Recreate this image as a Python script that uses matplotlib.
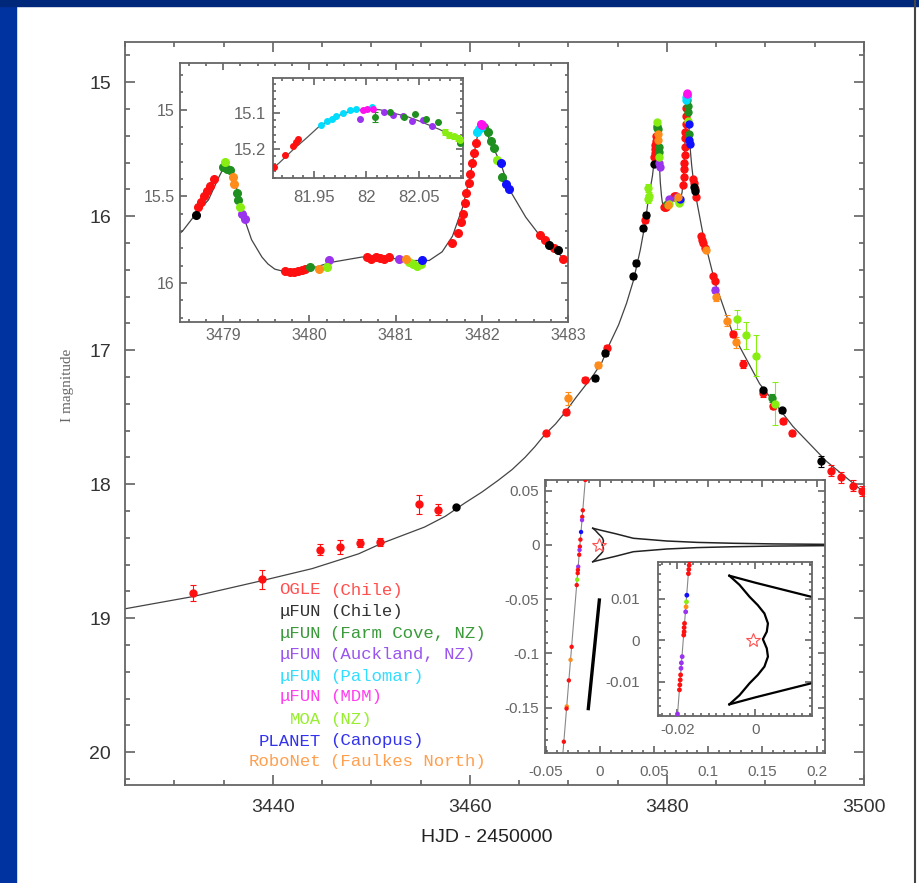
import numpy as np
import matplotlib
matplotlib.use("Agg")
import matplotlib.pyplot as plt
from matplotlib.patches import Rectangle
from matplotlib.lines import Line2D
from matplotlib.ticker import MultipleLocator, FuncFormatter

plt.rcParams['font.family'] = ['Liberation Sans', 'DejaVu Sans']

# ---- model light curve (HJD-2450000, I mag)
model_t = [3425, 3431.8, 3438.9, 3444.0, 3448.7, 3451.1, 3455.4, 3457.5, 3459.5, 3461.2,
           3462.9, 3464.3, 3465.6, 3466.6, 3467.6, 3468.7, 3469.7, 3470.8, 3472.5, 3473.4,
           3474.2, 3475.1, 3475.9, 3476.6, 3477.3, 3477.8, 3478.1, 3478.53, 3478.67, 3478.83,
           3478.95, 3479.02, 3479.07, 3479.14, 3479.24, 3479.33, 3479.45, 3479.52, 3479.60,
           3479.68, 3479.76, 3479.87, 3479.99, 3480.26, 3480.61, 3480.85, 3481.15, 3481.39,
           3481.54, 3481.66, 3481.78, 3481.87, 3481.911, 3481.930, 3481.955, 3481.981, 3482.0,
           3482.025, 3482.051, 3482.07, 3482.091, 3482.22, 3482.32, 3482.51, 3482.71, 3482.98,
           3483.7, 3484.9, 3486.7, 3489.4, 3492.8, 3496.2, 3500]
model_mag = [18.93, 18.84, 18.72, 18.63, 18.52, 18.44, 18.32, 18.24, 18.14, 18.06,
             17.97, 17.89, 17.80, 17.72, 17.63, 17.55, 17.46, 17.35, 17.19, 17.09,
             16.95, 16.81, 16.65, 16.48, 16.25, 16.05, 15.88, 15.70, 15.61, 15.52,
             15.39, 15.32, 15.33, 15.42, 15.62, 15.75, 15.85, 15.89, 15.92,
             15.93, 15.935, 15.935, 15.92, 15.88, 15.85, 15.85, 15.87, 15.87,
             15.82, 15.73, 15.56, 15.37, 15.253, 15.202, 15.137, 15.098, 15.089,
             15.10, 15.123, 15.146, 15.174, 15.31, 15.46, 15.62, 15.75, 15.87,
             16.15, 16.50, 16.88, 17.25, 17.57, 17.83, 18.06]

# ---- photometry per observatory
ogle_t = [3431.9, 3438.9, 3444.8, 3446.8, 3448.9, 3450.9, 3454.8, 3456.8, 3467.7, 3469.8,
          3471.7, 3473.9, 3477.8, 3478.71, 3478.74, 3478.78, 3478.81, 3478.85, 3478.89,
          3479.72, 3479.77, 3479.82, 3479.87, 3479.92, 3479.95, 3480.67, 3480.72, 3480.77,
          3480.82, 3480.87, 3480.92, 3481.66, 3481.72, 3481.76, 3481.78, 3481.81, 3481.82,
          3481.85, 3481.86, 3481.89, 3481.91, 3481.93, 3482.67, 3482.73, 3482.84, 3482.94,
          3483.5, 3483.6, 3483.7, 3483.9, 3484.7, 3484.9, 3486.7, 3487.7, 3489.7, 3490.8,
          3491.8, 3492.7, 3496.7, 3497.7, 3498.9, 3499.8]
ogle_mag = [18.81, 18.71, 18.49, 18.47, 18.44, 18.43, 18.15, 18.19, 17.62, 17.46,
            17.22, 16.98, 16.03, 15.56, 15.53, 15.50, 15.47, 15.44, 15.40,
            15.93, 15.935, 15.935, 15.93, 15.925, 15.92, 15.85, 15.86, 15.85,
            15.855, 15.86, 15.85, 15.77, 15.71, 15.65, 15.60, 15.54, 15.48,
            15.42, 15.37, 15.31, 15.25, 15.19, 15.72, 15.75, 15.80, 15.86,
            16.15, 16.18, 16.20, 16.24, 16.45, 16.48, 16.88, 17.10, 17.32, 17.42,
            17.53, 17.62, 17.90, 17.95, 18.01, 18.05]
ogle_err = [0.06, 0.07, 0.04, 0.05, 0.03, 0.03, 0.07, 0.04, 0.02, 0.02,
            0.02, 0.02, 0.02, 0, 0, 0, 0, 0, 0,
            0, 0, 0, 0, 0, 0, 0, 0, 0,
            0, 0, 0, 0, 0, 0, 0, 0, 0,
            0, 0, 0, 0, 0, 0, 0, 0, 0,
            0, 0, 0, 0, 0, 0, 0.02, 0.03, 0.03, 0.02,
            0.02, 0.02, 0.04, 0.04, 0.04, 0.04]

chile_t = [3458.6, 3472.7, 3473.7, 3476.6, 3476.9, 3477.6, 3477.9, 3478.68, 3482.78, 3482.88,
           3489.8, 3491.7, 3495.6]
chile_mag = [18.17, 17.21, 17.02, 16.45, 16.35, 16.09, 15.99, 15.61, 15.78, 15.81,
             17.30, 17.45, 17.83]
chile_err = [0, 0.02, 0.02, 0.02, 0.02, 0.02, 0.02, 0, 0, 0, 0.02, 0.02, 0.04]

farm_t = [3479.00, 3479.04, 3479.08, 3479.16, 3479.17, 3480.01, 3482.03, 3482.07, 3482.11,
          3482.14, 3482.24, 3490.7]
farm_mag = [15.33, 15.34, 15.35, 15.48, 15.52, 15.91, 15.10, 15.13, 15.18,
            15.22, 15.39, 17.36]
farm_err = [0, 0, 0, 0, 0, 0, 0, 0, 0, 0, 0, 0.03]

auck_t = [3479.22, 3479.25, 3480.23, 3481.04, 3484.9]
auck_mag = [15.60, 15.63, 15.87, 15.86, 16.55]
auck_err = [0, 0, 0, 0, 0.02]

palomar_t = [3481.95, 3481.97, 3481.99]
palomar_mag = [15.13, 15.11, 15.10]
palomar_err = [0, 0, 0]

mdm_t = [3481.99, 3482.0]
mdm_mag = [15.08, 15.085]
mdm_err = [0, 0]

moa_t = [3478.05, 3478.1, 3478.15, 3479.02, 3479.20, 3480.21, 3481.16, 3481.2, 3481.25,
         3481.29, 3482.18, 3487.1, 3488.0, 3489.0, 3491.0]
moa_mag = [15.87, 15.79, 15.85, 15.30, 15.56, 15.91, 15.88, 15.89, 15.90,
           15.89, 15.29, 16.77, 16.89, 17.04, 17.40]
moa_err = [0.03, 0.03, 0.03, 0, 0, 0, 0, 0, 0, 0, 0, 0.07, 0.10, 0.15, 0.16]

planet_t = [3481.31, 3482.22, 3482.28, 3482.32]
planet_mag = [15.87, 15.31, 15.43, 15.46]
planet_err = [0, 0, 0, 0]

robo_t = [3470.0, 3473.0, 3479.11, 3479.13, 3480.11, 3481.12, 3484.0, 3485.0, 3486.1, 3487.0]
robo_mag = [17.36, 17.11, 15.39, 15.43, 15.92, 15.86, 16.25, 16.60, 16.78, 16.94]
robo_err = [0.05, 0.02, 0, 0, 0, 0, 0.02, 0.03, 0.04, 0.04]

# ---- zoom on the second peak (HJD-2453400)
peak_model_t = [81.911, 81.917, 81.930, 81.943, 81.955, 81.968, 81.981, 82.0, 82.013, 82.025,
                82.038, 82.051, 82.07, 82.083, 82.092]
peak_model_mag = [15.253, 15.238, 15.202, 15.169, 15.137, 15.114, 15.098, 15.089, 15.091, 15.10,
                  15.109, 15.123, 15.146, 15.165, 15.176]
peak_ogle_t = [81.912, 81.922, 81.93, 81.933, 81.935]
peak_ogle_mag = [15.25, 15.216, 15.19, 15.18, 15.172]
peak_palomar_t = [81.957, 81.962, 81.967, 81.971, 81.978, 81.984, 81.990, 82.005]
peak_palomar_mag = [15.132, 15.123, 15.117, 15.109, 15.10, 15.091, 15.089, 15.082]
peak_mdm_t = [81.997, 82.001, 82.006]
peak_mdm_mag = [15.091, 15.089, 15.089]
peak_auck_t = [81.994, 82.017, 82.025, 82.035, 82.043, 82.054, 82.062]
peak_auck_mag = [15.117, 15.098, 15.105, 15.109, 15.123, 15.119, 15.137]
peak_farm_t = [82.008, 82.022, 82.036, 82.046, 82.057, 82.068, 82.089]
peak_farm_mag = [15.111, 15.096, 15.112, 15.102, 15.117, 15.126, 15.183]
peak_farm_err = [0.013, 0, 0, 0, 0, 0, 0]
peak_moa_t = [82.075, 82.079, 82.083, 82.087, 82.089]
peak_moa_mag = [15.152, 15.16, 15.165, 15.17, 15.174]
peak_moa_err = [0.008, 0.008, 0.008, 0.008, 0.008]

# ---- source plane: trajectory, caustics, data positions
traj_x = [-0.0345, -0.0132]
traj_y = [-0.195, 0.065]
fold_up_x = [-0.0067, 0.0, 0.0144, 0.0308, 0.0616, 0.09, 0.123, 0.16, 0.21]
fold_up_y = [0.0155, 0.0138, 0.0104, 0.0062, 0.0037, 0.0024, 0.0016, 0.0010, 0.0006]
fold_lo_x = [-0.0067, 0.0, 0.0144, 0.0308, 0.0616, 0.09, 0.123, 0.16, 0.21]
fold_lo_y = [-0.0155, -0.0138, -0.0104, -0.0062, -0.0037, -0.0024, -0.0016, -0.0010, -0.0006]
inner_x = [-0.0067, -0.0041, -0.0015, 0.0006, 0.0023, 0.0032, 0.0029, 0.0019,
           0.0029, 0.0032, 0.0023, 0.0006, -0.0015, -0.0041, -0.0067]
inner_y = [0.0155, 0.0133, 0.0104, 0.0084, 0.0064, 0.0040, 0.0020, 0.0002,
           -0.0020, -0.0040, -0.0064, -0.0084, -0.0104, -0.0133, -0.0155]
planet_caustic_x = [-0.0108, -0.0006]
planet_caustic_y = [-0.151, -0.0508]
source_xy = (-0.0007, 0.0)

src_x = [-0.0136, -0.0159, -0.0164, -0.0166, -0.0175, -0.0181, -0.0186, -0.0189, -0.0192,
         -0.0201, -0.0204, -0.0206, -0.0211, -0.0215, -0.0262, -0.0272, -0.0288, -0.0307,
         -0.0309, -0.0334]
src_y = [0.06, 0.032, 0.026, 0.023, 0.012, 0.005, -0.0015, -0.0046, -0.009,
         -0.020, -0.023, -0.026, -0.032, -0.037, -0.094, -0.106, -0.125, -0.149,
         -0.151, -0.1816]
src_c = ['r', 'r', 'r', 'p', 'b', 'r', 'r', 'p', 'r', 'p', 'r', 'r', 'm', 'r', 'r', 'o', 'r', 'o', 'r', 'r']

zsrc_x = [-0.0169, -0.0170, -0.0171, -0.0172, -0.0176, -0.0177, -0.0178, -0.0179, -0.0182,
          -0.0183, -0.0183, -0.0184, -0.0188, -0.0190, -0.0191, -0.0192, -0.0193, -0.0194,
          -0.0195, -0.0200]
zsrc_y = [0.019, 0.018, 0.017, 0.016, 0.0108, 0.0092, 0.008, 0.0068, 0.004,
          0.003, 0.002, 0.0012, -0.004, -0.0055, -0.0068, -0.0084, -0.0096, -0.0108,
          -0.012, -0.0178]
zsrc_c = ['r', 'r', 'r', 'r', 'b', 'm', 'o', 'p', 'r', 'r', 'r', 'r', 'p', 'p', 'p', 'r', 'r', 'r', 'r', 'p']

names = ['OGLE', '\u03bcFUN', '\u03bcFUN', '\u03bcFUN', '\u03bcFUN', '\u03bcFUN', 'MOA', 'PLANET', 'RoboNet']
sites = ['(Chile)', '(Chile)', '(Farm Cove, NZ)', '(Auckland, NZ)', '(Palomar)', '(MDM)', '(NZ)',
         '(Canopus)', '(Faulkes North)']
colors = ['#ff1010', '#000000', '#1f8f1f', '#9933ee', '#00ddff', '#ff10ee', '#88ee11', '#1010ff', '#ff8c1a']
text_colors = ['#ff5050', '#333333', '#3a9a3a', '#9955ee', '#33ddff', '#ff40ee', '#99ee33', '#3333ee', '#ffa050']
short = {'r': colors[0], 'p': colors[3], 'b': colors[7], 'm': colors[6], 'o': colors[8]}

W, H = 919, 883
fig = plt.figure(figsize=(W / 100, H / 100), dpi=100)
fig.patch.set_facecolor('white')

# blue slide frame
fig.add_artist(Rectangle((0, 0), 16 / W, 1, transform=fig.transFigure, color='#0033a0', zorder=0))
fig.add_artist(Rectangle((0, 1 - 6 / H), 1, 6 / H, transform=fig.transFigure, color='#00287a', zorder=0))
fig.add_artist(Line2D([915 / W, 915 / W], [0, 1], transform=fig.transFigure, color='#444444', lw=1.5))


def px_axes(l, t, r, b):
    return fig.add_axes([l / W, 1 - b / H, (r - l) / W, (b - t) / H])


def style(ax, xmaj, xmin, ymaj, ymin, size, lcolor, mlen, pad):
    for s in ax.spines.values():
        s.set_color('#666666')
        s.set_linewidth(1.3)
    ax.xaxis.set_major_locator(MultipleLocator(xmaj))
    ax.xaxis.set_minor_locator(MultipleLocator(xmin))
    ax.yaxis.set_major_locator(MultipleLocator(ymaj))
    ax.yaxis.set_minor_locator(MultipleLocator(ymin))
    fmt = FuncFormatter(lambda v, p: '%g' % round(v, 6))
    ax.xaxis.set_major_formatter(fmt)
    ax.yaxis.set_major_formatter(fmt)
    ax.tick_params(which='both', direction='in', top=True, right=True, color='#555555',
                   labelcolor=lcolor, labelsize=size, width=1.1)
    ax.tick_params(which='major', length=mlen, pad=pad)
    ax.tick_params(which='minor', length=mlen / 2)


lc_sets = [(ogle_t, ogle_mag, ogle_err), (chile_t, chile_mag, chile_err), (farm_t, farm_mag, farm_err),
           (auck_t, auck_mag, auck_err), (palomar_t, palomar_mag, palomar_err), (mdm_t, mdm_mag, mdm_err),
           (moa_t, moa_mag, moa_err), (planet_t, planet_mag, planet_err), (robo_t, robo_mag, robo_err)]


def draw_lc(ax, ms):
    ax.plot(model_t, model_mag, color='#444444', lw=0.9, zorder=2)
    for (t, m, e), c in zip(lc_sets, colors):
        ax.errorbar(t, m, yerr=e, fmt='o', color=c, ms=ms, mec=c, elinewidth=0.8,
                    capsize=2, capthick=0.8, zorder=3)


# ---- main panel
ax = px_axes(125, 42, 864, 785)
draw_lc(ax, 5)
ax.set_xlim(3425, 3500)
ax.set_ylim(20.245, 14.70)
style(ax, 20, 5, 1, 0.2, 14, '#333333', 7, 10)

fig.text(487 / W, 1 - 838 / H, 'HJD - 2450000', ha='center', va='center', fontsize=14, color='#222222')
fig.text(68 / W, 1 - 385 / H, 'I magnitude', ha='center', va='center', rotation=90,
         fontsize=11, color='#666666', family='Liberation Serif')

legend_y = [590, 611.7, 633.3, 655, 676, 696.7, 719.3, 741, 761.7]
for n, s, c, y in zip(names, sites, text_colors, legend_y):
    fig.text(321 / W, 1 - y / H, n, ha='right', va='center', fontsize=12.5, color=c, family='Liberation Mono')
    fig.text(330 / W, 1 - y / H, s, ha='left', va='center', fontsize=12.5, color=c, family='Liberation Mono')

# ---- inset: the two caustic crossings
ax1 = px_axes(180, 63, 568, 322)
draw_lc(ax1, 5.5)
ax1.set_xlim(3478.5, 3483.0)
ax1.set_ylim(16.225, 14.73)
style(ax1, 1, 0.2, 0.5, 0.1, 11.5, '#666666', 5, 4)

# ---- inset: top of second peak
ax2 = px_axes(273, 78, 463, 178)
ax2.plot(peak_model_t, peak_model_mag, color='#555555', lw=0.9, zorder=2)
peak_sets = [(peak_ogle_t, peak_ogle_mag, None, colors[0]), (peak_palomar_t, peak_palomar_mag, None, colors[4]),
             (peak_mdm_t, peak_mdm_mag, None, colors[5]), (peak_auck_t, peak_auck_mag, None, colors[3]),
             (peak_farm_t, peak_farm_mag, peak_farm_err, colors[2]),
             (peak_moa_t, peak_moa_mag, peak_moa_err, colors[6])]
for t, m, e, c in peak_sets:
    ax2.errorbar(t, m, yerr=e, fmt='o', color=c, ms=4, mec=c, elinewidth=0.8, capsize=2,
                 capthick=0.8, zorder=3)
ax2.set_xlim(81.911, 82.092)
ax2.set_ylim(15.28, 15.003)
style(ax2, 0.05, 0.01, 0.1, 0.02, 12, '#666666', 5, 5)
ax2.tick_params(axis='x', which='major', pad=9)

# ---- inset: source plane
ax3 = px_axes(545, 480, 825, 753)
ax3.plot(traj_x, traj_y, color='#888888', lw=0.8, zorder=2)
ax3.plot(fold_up_x, fold_up_y, color='#222222', lw=1.1)
ax3.plot(fold_lo_x, fold_lo_y, color='#222222', lw=1.1)
ax3.plot(inner_x, inner_y, color='#222222', lw=1.1)
ax3.plot(planet_caustic_x, planet_caustic_y, color='k', lw=2.4)
ax3.scatter(src_x, src_y, s=10, c=[short[k] for k in src_c], zorder=3, linewidths=0)
ax3.plot(*source_xy, marker='*', ms=10, mfc='none', mec='#ff5050', mew=0.8, zorder=4)
ax3.set_xlim(-0.0508, 0.2078)
ax3.set_ylim(-0.192, 0.060)
style(ax3, 0.05, 0.01, 0.05, 0.01, 11, '#666666', 5, 4)
ax3.tick_params(axis='x', which='major', pad=9)

# ---- inset: central caustic close-up
ax4 = px_axes(658, 562, 812, 716)
ax4.plot(traj_x, traj_y, color='#888888', lw=0.8, zorder=2)
ax4.plot(fold_up_x, fold_up_y, color='k', lw=1.6)
ax4.plot(fold_lo_x, fold_lo_y, color='k', lw=1.6)
ax4.plot(inner_x, inner_y, color='k', lw=1.6)
ax4.scatter(zsrc_x, zsrc_y, s=12, c=[short[k] for k in zsrc_c], zorder=3, linewidths=0)
ax4.plot(*source_xy, marker='*', ms=10, mfc='none', mec='#ff5050', mew=0.8, zorder=4)
ax4.set_xlim(-0.025, 0.0145)
ax4.set_ylim(-0.0183, 0.0188)
style(ax4, 0.02, 0.002, 0.01, 0.002, 11, '#666666', 5, 5)
ax4.tick_params(axis='y', which='major', pad=13)

fig.savefig('out.png', dpi=100, facecolor='white')
